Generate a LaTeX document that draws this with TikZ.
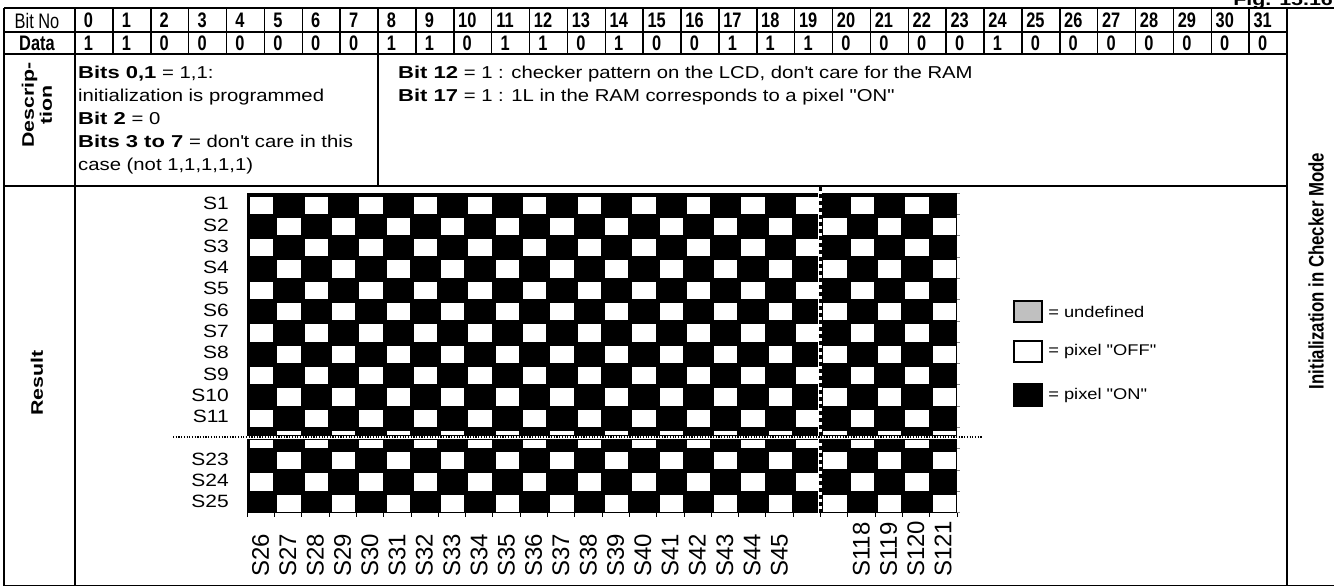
\documentclass[tikz,border=0pt]{standalone}
\usepackage{fontspec}
\setmainfont{Liberation Sans}
\newfontfamily\widefont[FakeStretch=1.18, BoldFeatures={FakeStretch=1.28}]{Liberation Sans}
\newfontfamily\narrowfont[FakeStretch=0.78]{Liberation Sans}
\newfontfamily\tallfont[FakeStretch=0.8]{Liberation Sans}
\usetikzlibrary{positioning}
\definecolor{undefgray}{RGB}{192,192,192}
\newcommand{\offcell}[3]{
    \fill[white] ({247+(#1-1)*27.3+3},{#2}) rectangle ({247+#1*27.3-1},{#3});
}
\tikzset{
    frame/.style={line width=1.5pt},
    hdrtext/.style={inner sep=0pt, font=\narrowfont\fontsize{21}{23}\selectfont},
    hdrbold/.style={inner sep=0pt, font=\narrowfont\bfseries\fontsize{21}{23}\selectfont},
    desctext/.style={inner sep=0pt, anchor=base west, font=\widefont\fontsize{17.2}{20}\selectfont},
    sidelab/.style={inner sep=0pt, rotate=90, align=center, font=\widefont\bfseries\fontsize{16.7}{18}\selectfont},
    rowlab/.style={inner sep=0pt, anchor=east, font=\widefont\fontsize{17.8}{19}\selectfont},
    collab/.style={inner sep=0pt, rotate=90, anchor=west, font=\fontsize{24}{26}\selectfont},
    legbox/.style={draw, line width=2.2pt, minimum width=28pt, minimum height=21pt, inner sep=0pt},
    legtext/.style={inner sep=0pt, anchor=west, font=\widefont\fontsize{15.5}{17}\selectfont},
}

\begin{document}
\begin{tikzpicture}[x=1pt,y=-1pt]
    \useasboundingbox (0,0) rectangle (1334,587);
    % table frame
    \draw[frame] (4,8) -- (1340,8);
    \draw[frame] (4,585.5) -- (1340,585.5);
    \draw[frame] (4,8) -- (4,585.5);
    \draw[frame] (75,8) -- (75,585.5);
    \draw[frame] (1287,8) -- (1287,585.5);
    \draw[frame] (4,32) -- (1287,32);
    \draw[frame] (4,54) -- (1287,54);
    \draw[frame] (4,186) -- (1287,186);
    \draw[frame] (378,54) -- (378,186);
    \foreach \i in {1,...,31}
        \draw[frame] ({75+\i*37.875},8) -- ({75+\i*37.875},54);

    % header rows
    \node[hdrtext] (bitno) at (37,20.5) {Bit No};
    \node[hdrbold] (data) at (37,43) {Data};
    \foreach \v [count=\i from 0] in {1,1,0,0,0,0,0,0,1,1,0,1,1,0,1,0,0,1,1,1,0,0,0,0,1,0,0,0,0,0,0,0}{
        \node[hdrbold] (bit\i) at ({75+\i*37.875+13.5},20.5) {\i};
        \node[hdrbold] (val\i) at ({75+\i*37.875+13.5},43) {\v};
    }
    \node[hdrbold, font=\widefont\bfseries\fontsize{16.7}{18}\selectfont, anchor=base east] (fig) at (1333,5.5) {Fig. 15.16};

    % description
    \node[sidelab] (descrip) at (37,105) {Descrip-\\tion};
    \node[desctext] (d1) at (78,78) {\textbf{Bits 0,1} = 1,1:};
    \node[desctext] (d2) at (78,101) {initialization is programmed};
    \node[desctext] (d3) at (78,124) {\textbf{Bit 2} = 0};
    \node[desctext] (d4) at (78,147) {\textbf{Bits 3 to 7} = don\textquotesingle t care in this};
    \node[desctext] (d5) at (78,170) {case (not 1,1,1,1,1)};
    \node[desctext] (r1) at (398,78) {\textbf{Bit 12} = 1 : checker pattern on the LCD, don\textquotesingle t care for the RAM};
    \node[desctext] (r2) at (398,101) {\textbf{Bit 17} = 1 : 1L in the RAM corresponds to a pixel "ON"};

    % result
    \node[sidelab] (result) at (37,383) {Result};
    \node[sidelab, font=\tallfont\bfseries\fontsize{21}{23}\selectfont] (mode) at (1316,271) {Initialization in Checker Mode};

    % checker pattern
    \fill (247,193) rectangle (957,512.5);
    \foreach \r in {1,...,11}{
        \foreach \c in {1,...,26}{
            \pgfmathtruncatemacro\odd{mod(\r+\c,2)}
            \ifnum\odd=0 \offcell{\c}{193+(\r-1)*21.3+3.5}{193+\r*21.3-0.5}\fi
        }
    }
    \foreach \c in {2,4,...,26} \offcell{\c}{430.8}{435};
    \foreach \c in {1,3,...,25} \offcell{\c}{440}{448.1};
    \foreach \r in {13,14,15}{
        \foreach \c in {1,...,26}{
            \pgfmathtruncatemacro\odd{mod(\r+\c,2)}
            \ifnum\odd=1 \offcell{\c}{193+(\r-1)*21.3+3.5}{193+\r*21.3-0.5}\fi
        }
    }
    % breaks
    \fill[white] (247,435.6) rectangle (957,438.6);
    \fill[white] (818.3,193) rectangle (822.3,512.5);
    \draw[line width=2pt, dash pattern=on 1.2pt off 1.5pt] (173,437) -- (983,437);
    \draw[line width=3pt, dash pattern=on 4pt off 3pt] (820.3,187) -- (820.3,515);
    \foreach \c in {0,...,26}
        \draw[line width=0.6pt] ({247+\c*27.3},512.5) -- ++(0,4);
    \foreach \r in {0,...,15}
        \draw[line width=0.6pt, gray] (957,{193+\r*21.3}) -- ++(3,0);

    % line labels
    \foreach \r in {1,...,11}
        \node[rowlab] (s\r) at (229,{193+(\r-0.5)*21.3}) {S\r};
    \foreach \r/\n in {13/23,14/24,15/25}
        \node[rowlab] (s\n) at (229,{193+(\r-0.5)*21.3}) {S\n};
    \foreach \n [count=\c] in {26,...,45}
        \node[collab] (c\n) at ({247+(\c-0.5)*27.3},577) {S\n};
    \foreach \n [count=\c from 23] in {118,...,121}
        \node[collab] (c\n) at ({247+(\c-0.5)*27.3},577) {S\n};

    % legend
    \node[legbox, fill=undefgray] (undef) at (1028,311.5) {};
    \node[legbox, fill=white] (off) at (1028,351.5) {};
    \node[legbox, fill=black] (on) at (1028,395) {};
    \node[legtext, right=5pt of undef] (undeftxt) {= undefined};
    \node[legtext, right=5pt of off] (offtxt) {= pixel "OFF"};
    \node[legtext, right=5pt of on] (ontxt) {= pixel "ON"};
\end{tikzpicture}
\end{document}
